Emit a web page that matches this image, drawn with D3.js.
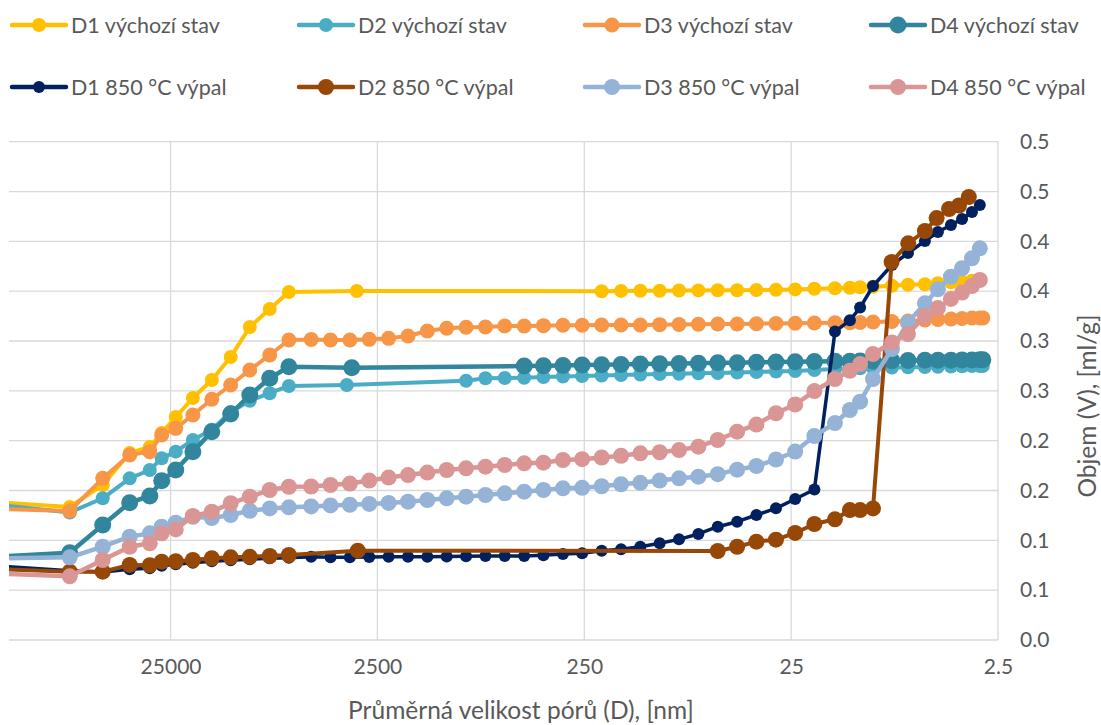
<!DOCTYPE html>
<html>
<head>
<meta charset="utf-8">
<script src="https://cdn.jsdelivr.net/npm/d3@7/dist/d3.min.js"></script>
<style>
  html, body { margin: 0; padding: 0; background: #ffffff; }
  svg text { font-family: Lato, "Open Sans", sans-serif; fill: #595959; }
</style>
</head>
<body>
<svg id="chart" width="1101" height="725"></svg>
<script>
// Axis ticks
const xTicks = [25000, 2500, 250, 25, 2.5];
const yTicks = [0, 0.05, 0.1, 0.15, 0.2, 0.25, 0.3, 0.35, 0.4, 0.45, 0.5];

// Series: [pore diameter D (nm), cumulative volume V (ml/g)]
const d1Vychozi = [[200000,0.139],[76800,0.1335],[53200,0.1555],[39400,0.1876],[31500,0.1937],[27600,0.2077],[23600,0.2238],[19500,0.2428],[15800,0.2609],[12800,0.284],[10350,0.3141],[8290,0.3321],[6700,0.3492],[3145,0.3502],[206,0.3500],[166,0.3503],[134,0.3505],[108,0.3505],[87.1,0.3507],[70.2,0.3508],[56.6,0.351],[45.6,0.351],[36.8,0.3512],[29.6,0.3515],[23.9,0.3518],[19.3,0.3525],[15.35,0.353],[13.0,0.3535],[11.6,0.354],[10.05,0.3545],[8.14,0.3555],[6.81,0.3565],[5.64,0.357],[4.88,0.358],[4.22,0.359],[3.73,0.3595],[3.34,0.3605],[3.06,0.361]];
const d2Vychozi = [[200000,0.137],[76800,0.128],[53200,0.1422],[39400,0.1622],[31500,0.1706],[27600,0.1823],[23600,0.189],[19500,0.2007],[15800,0.211],[12800,0.2288],[10350,0.240],[8290,0.2476],[6700,0.2549],[3515,0.2559],[932,0.2602],[751,0.2626],[606,0.2629],[488,0.2632],[394,0.2639],[317,0.2644],[256,0.2649],[206,0.2654],[166,0.2659],[134,0.2664],[108,0.2669],[87.1,0.2672],[70.2,0.2676],[56.6,0.2679],[45.6,0.2684],[36.8,0.2689],[29.6,0.2694],[23.9,0.2699],[19.3,0.2709],[15.35,0.2719],[13.0,0.2724],[11.6,0.2726],[10.05,0.2729],[8.14,0.2734],[6.81,0.2736],[5.64,0.2739],[4.88,0.2742],[4.22,0.2744],[3.73,0.2746],[3.34,0.2749],[3.06,0.2749],[2.96,0.275]];
const d3Vychozi = [[200000,0.132],[76800,0.1295],[53200,0.1622],[39400,0.1856],[31500,0.189],[27600,0.2057],[23600,0.2124],[19500,0.2258],[15800,0.2415],[12800,0.2559],[10350,0.2709],[8290,0.286],[6700,0.301],[5227,0.3015],[4214,0.301],[3397,0.301],[2738,0.3017],[2207,0.3027],[1779,0.305],[1434,0.310],[1156,0.3128],[932,0.3138],[751,0.3141],[606,0.3151],[488,0.3151],[394,0.3154],[317,0.3158],[256,0.3158],[206,0.3161],[166,0.3161],[134,0.3161],[108,0.3164],[87.1,0.3166],[70.2,0.3168],[56.6,0.3171],[45.6,0.3171],[36.8,0.3174],[29.6,0.3176],[23.9,0.3178],[19.3,0.3181],[15.35,0.3184],[13.0,0.3184],[11.6,0.3186],[10.05,0.3191],[8.14,0.3196],[6.81,0.3201],[5.64,0.3211],[4.88,0.3216],[4.22,0.3221],[3.73,0.3226],[3.34,0.3231],[3.06,0.3231],[2.96,0.3232]];
const d4Vychozi = [[200000,0.083],[76800,0.0876],[53200,0.1154],[39400,0.1378],[31500,0.1445],[27600,0.1599],[23600,0.1706],[19500,0.189],[15800,0.209],[12800,0.2268],[10350,0.2458],[8290,0.2626],[6700,0.2742],[3325,0.2732],[488,0.2749],[394,0.2752],[317,0.2755],[256,0.2759],[206,0.2762],[166,0.2765],[134,0.2769],[108,0.2772],[87.1,0.2775],[70.2,0.2778],[56.6,0.2781],[45.6,0.2783],[36.8,0.2786],[29.6,0.2789],[23.9,0.2792],[19.3,0.2794],[15.35,0.2796],[13.0,0.2798],[11.6,0.2799],[10.05,0.28],[8.14,0.2802],[6.81,0.2804],[5.64,0.2806],[4.88,0.2807],[4.22,0.2808],[3.73,0.2809],[3.34,0.281],[3.06,0.2811],[2.96,0.2812]];
const d1Vypal = [[200000,0.0753],[76800,0.0695],[53200,0.0682],[39400,0.071],[31500,0.072],[27600,0.0745],[23600,0.076],[19500,0.0775],[15800,0.079],[12800,0.080],[10350,0.081],[8290,0.082],[6700,0.0825],[5227,0.0836],[4214,0.083],[3397,0.083],[2738,0.0833],[2207,0.0836],[1779,0.0836],[1434,0.0836],[1156,0.0838],[932,0.084],[751,0.0843],[606,0.0843],[488,0.0843],[394,0.085],[317,0.0863],[256,0.087],[206,0.0896],[166,0.091],[134,0.0936],[108,0.097],[87.1,0.101],[70.2,0.1064],[56.6,0.1137],[45.6,0.1187],[36.8,0.1254],[29.6,0.1321],[23.9,0.1415],[19.3,0.151],[15.35,0.3095],[13.0,0.3208],[11.6,0.3336],[10.05,0.3552],[8.14,0.3763],[6.81,0.3883],[5.64,0.4004],[4.88,0.4094],[4.22,0.4164],[3.73,0.4224],[3.34,0.4295],[3.06,0.4365]];
const d2Vypal = [[200000,0.0716],[76800,0.0685],[53200,0.0686],[39400,0.0753],[31500,0.075],[27600,0.0786],[23600,0.079],[19500,0.0803],[15800,0.082],[12800,0.083],[10350,0.0835],[8290,0.0843],[6700,0.0853],[3110,0.0896],[56.6,0.0893],[45.6,0.0936],[36.8,0.0987],[29.6,0.1007],[23.9,0.1074],[19.3,0.1164],[15.35,0.1211],[13.0,0.1304],[11.6,0.1304],[10.05,0.132],[8.17,0.3793],[6.79,0.398],[5.64,0.4104],[4.95,0.4234],[4.31,0.4325],[3.86,0.436],[3.46,0.4445]];
const d3Vypal = [[200000,0.0816],[76800,0.083],[53200,0.0936],[39400,0.1037],[31500,0.107],[27600,0.1137],[23600,0.1177],[19500,0.1237],[15800,0.1224],[12800,0.1254],[10350,0.1297],[8290,0.132],[6700,0.1331],[5227,0.134],[4214,0.135],[3397,0.1357],[2738,0.1365],[2207,0.1375],[1779,0.1388],[1434,0.1405],[1156,0.1422],[932,0.1438],[751,0.1455],[606,0.1472],[488,0.1488],[394,0.1505],[317,0.1522],[256,0.1527],[206,0.1543],[166,0.1563],[134,0.1577],[108,0.16],[87.1,0.1622],[70.2,0.1639],[56.6,0.1664],[45.6,0.1709],[36.8,0.1746],[29.6,0.1811],[23.9,0.1891],[19.3,0.2047],[15.35,0.2177],[13.0,0.2308],[11.6,0.2391],[10.05,0.2619],[8.14,0.292],[6.81,0.3184],[5.64,0.3378],[4.88,0.3519],[4.22,0.3645],[3.73,0.373],[3.34,0.383],[3.06,0.393]];
const d4Vypal = [[200000,0.0672],[76800,0.0639],[53200,0.0803],[39400,0.0936],[31500,0.097],[27600,0.107],[23600,0.111],[19500,0.1244],[15800,0.1287],[12800,0.1372],[10350,0.1438],[8290,0.1505],[6700,0.1538],[5227,0.154],[4214,0.1555],[3397,0.157],[2738,0.160],[2207,0.163],[1779,0.1655],[1434,0.168],[1156,0.1706],[932,0.1723],[751,0.1739],[606,0.1756],[488,0.1773],[394,0.1779],[317,0.1806],[256,0.1814],[206,0.1831],[166,0.1849],[134,0.1873],[108,0.1884],[87.1,0.1906],[70.2,0.194],[56.6,0.2007],[45.6,0.209],[36.8,0.2162],[29.6,0.2275],[23.9,0.2363],[19.3,0.2498],[15.35,0.2619],[13.0,0.2701],[11.6,0.2769],[10.05,0.287],[8.14,0.2985],[6.81,0.307],[5.64,0.3251],[4.88,0.3331],[4.22,0.3422],[3.73,0.3487],[3.34,0.3552],[3.06,0.3612]];

const seriesNames = ["D1 výchozí stav", "D2 výchozí stav", "D3 výchozí stav", "D4 výchozí stav",
                     "D1 850 °C výpal", "D2 850 °C výpal", "D3 850 °C výpal", "D4 850 °C výpal"];
const seriesData = [d1Vychozi, d2Vychozi, d3Vychozi, d4Vychozi, d1Vypal, d2Vypal, d3Vypal, d4Vypal];

// Drawing styles for each series (colour, marker radius, line width)
const seriesStyles = [
  { color: "#FFC000", r: 7,   w: 4   },
  { color: "#4BACC6", r: 7,   w: 4   },
  { color: "#F79646", r: 7.5, w: 4   },
  { color: "#31859C", r: 8.5, w: 4.5 },
  { color: "#002060", r: 6,   w: 3.5 },
  { color: "#974706", r: 8,   w: 4   },
  { color: "#95B3D7", r: 8,   w: 4.5 },
  { color: "#D99694", r: 8,   w: 4.5 }
];

const svg = d3.select("#chart");
const plot = { left: 9, right: 998, top: 141.7, bottom: 640 };

// Reversed log axis: large pores on the left
const x = d3.scaleLog().domain([151000, 2.5]).range([plot.left, plot.right]);
const y = d3.scaleLinear().domain([0, 0.5]).range([plot.bottom, plot.top]);

const gridColor = "#d9d9d9";

// Horizontal gridlines
svg.append("g").selectAll("line").data(yTicks).join("line")
  .attr("x1", plot.left).attr("x2", plot.right)
  .attr("y1", d => y(d)).attr("y2", d => y(d))
  .attr("stroke", gridColor).attr("stroke-width", 1.3);

// Vertical gridlines
svg.append("g").selectAll("line").data(xTicks).join("line")
  .attr("x1", d => x(d)).attr("x2", d => x(d))
  .attr("y1", plot.top).attr("y2", plot.bottom)
  .attr("stroke", gridColor).attr("stroke-width", 1.3);

// X axis labels
const xAxis = d3.axisBottom(x).tickValues(xTicks).tickSize(0).tickPadding(27)
  .tickFormat(d => String(d));
const gx = svg.append("g").attr("transform", `translate(0,${plot.bottom})`).call(xAxis);
gx.select(".domain").remove();
gx.selectAll("text").attr("font-size", 21).attr("dy", "0.35em").style("fill", "#595959");

// Y axis labels on the right (one decimal, half rounded up)
const yAxis = d3.axisRight(y).tickValues(yTicks).tickSize(0).tickPadding(22)
  .tickFormat(d => (Math.round(d * 10 + 1e-9) / 10).toFixed(1));
const gy = svg.append("g").attr("transform", `translate(${plot.right},0)`).call(yAxis);
gy.select(".domain").remove();
gy.selectAll("text").attr("font-size", 21).style("fill", "#595959");

// Axis titles
svg.append("text")
  .attr("x", 521).attr("y", 709)
  .attr("text-anchor", "middle").attr("dominant-baseline", "central").attr("font-size", 24.5)
  .text("Průměrná velikost pórů (D), [nm]");
svg.append("text")
  .attr("transform", "translate(1086,406) rotate(-90)")
  .attr("text-anchor", "middle").attr("dominant-baseline", "central").attr("font-size", 24.5)
  .text("Objem (V), [ml/g]");

// Series
svg.append("defs").append("clipPath").attr("id", "plotClip")
  .append("rect").attr("x", plot.left).attr("y", 0)
  .attr("width", plot.right - plot.left + 20).attr("height", plot.bottom + 20);

const line = d3.line().x(d => x(d[0])).y(d => y(d[1]));
const seriesLayer = svg.append("g").attr("clip-path", "url(#plotClip)");

seriesData.forEach((data, i) => {
  const st = seriesStyles[i];
  const g = seriesLayer.append("g");
  g.append("path").datum(data)
    .attr("d", line).attr("fill", "none")
    .attr("stroke", st.color).attr("stroke-width", st.w)
    .attr("stroke-linejoin", "round").attr("stroke-linecap", "round");
  g.selectAll("circle").data(data).join("circle")
    .attr("cx", d => x(d[0])).attr("cy", d => y(d[1]))
    .attr("r", st.r).attr("fill", st.color);
});

// Legend: two rows of four entries
const legendCols = [12, 299, 585, 871];
const legendRows = [25, 87];
seriesNames.forEach((name, i) => {
  const st = seriesStyles[i];
  const lx = legendCols[i % 4], ly = legendRows[Math.floor(i / 4)];
  const g = svg.append("g").attr("transform", `translate(${lx},${ly})`);
  g.append("line").attr("x1", 0).attr("x2", 54).attr("y1", 0).attr("y2", 0)
    .attr("stroke", st.color).attr("stroke-width", 4.5).attr("stroke-linecap", "round");
  g.append("circle").attr("cx", 27).attr("cy", 0).attr("r", st.r).attr("fill", st.color);
  g.append("text").attr("x", 59).attr("y", 0).attr("dominant-baseline", "central")
    .attr("font-size", 21.5).text(name);
});
</script>
</body>
</html>
